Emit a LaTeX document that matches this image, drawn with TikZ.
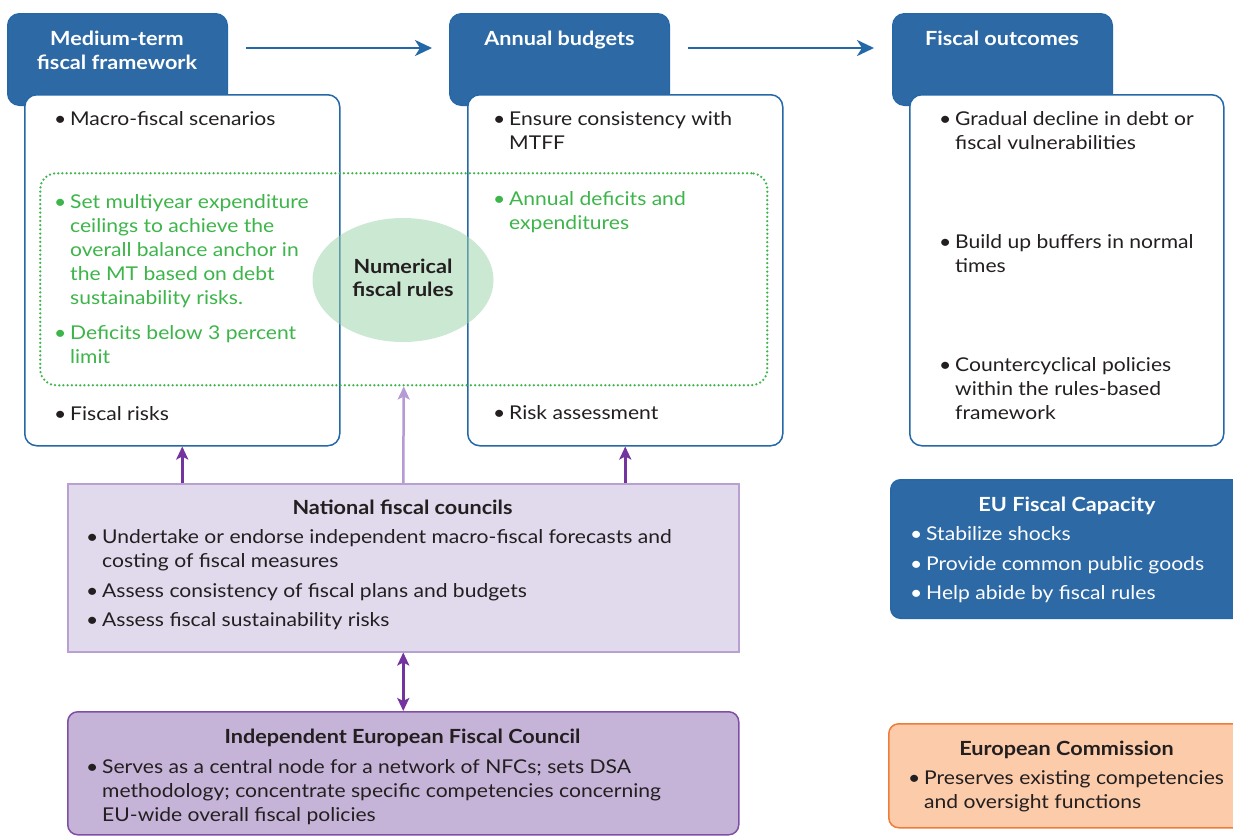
\documentclass[tikz,border=0pt]{standalone}
\usepackage{fontspec}
\setmainfont{Lato}[FakeStretch=1.11]
\usetikzlibrary{arrows.meta,shapes.geometric}

\definecolor{hdrblue}{HTML}{2C69A5}
\definecolor{edgeblue}{HTML}{2468A8}
\definecolor{rulegreen}{HTML}{3DB54A}
\definecolor{ellfill}{HTML}{99D3A7}
\definecolor{ink}{HTML}{231F20}
\definecolor{nfcfill}{HTML}{E1D9EC}
\definecolor{nfcedge}{HTML}{B9A0D2}
\definecolor{iefcfill}{HTML}{C6B4D8}
\definecolor{iefcedge}{HTML}{7F4FA6}
\definecolor{arrpurple}{HTML}{7334A0}
\definecolor{ltpurple}{HTML}{B49BD4}
\definecolor{ecfill}{HTML}{FCCBA9}
\definecolor{ecedge}{HTML}{F07A3A}

% bullet with hanging indent
\newcommand\bu{\makebox[16pt][l]{•}}
\newcommand\ind{\hspace*{16pt}}

\tikzset{
  hdrbox/.style={draw=edgeblue, fill=hdrblue, line width=1pt, rounded corners=12pt,
    minimum width=220pt, minimum height=92pt, anchor=north west, inner sep=0pt},
  bodybox/.style={draw=edgeblue, fill=white, line width=1.5pt, rounded corners=12pt,
    minimum width=315pt, minimum height=351pt, anchor=north west, inner sep=0pt},
  txt/.style={font=\fontsize{19}{24}\selectfont, text=ink, inner sep=0pt,
    anchor=north west, align=left},
  gtxt/.style={txt, text=rulegreen},
  wtxt/.style={txt, text=white},
  htitle/.style={font=\fontsize{19.5}{24}\selectfont\bfseries, text=white, inner sep=0pt, align=center},
  btitle/.style={font=\fontsize{19.5}{24}\selectfont\bfseries, text=ink, inner sep=0pt, anchor=base},
  flowarr/.style={draw=edgeblue, line width=2.5pt,
    -{Stealth[length=17pt,width=16pt,inset=5pt]}},
  parr/.style={draw=arrpurple, line width=2.5pt,
    -{Stealth[length=13pt,width=12pt,inset=3pt]}},
  lparr/.style={draw=ltpurple, line width=2.5pt,
    -{Stealth[length=13pt,width=12pt,inset=3pt]}},
  dparr/.style={draw=arrpurple, line width=2.5pt,
    {Stealth[length=13pt,width=12pt,inset=3pt]}-{Stealth[length=13pt,width=12pt,inset=3pt]}},
}

\begin{document}
\begin{tikzpicture}[x=1pt,y=-1pt]
\useasboundingbox[fill=white] (0,0) rectangle (1233,836);

% column headers
\node[hdrbox] (mtffh) at (7,13) {};
\node[hdrbox] (annh) at (449,13) {};
\node[hdrbox] (outh) at (892,13) {};

% column bodies
\node[bodybox] (mtffb) at (24,94) {};
\node[bodybox] (annb) at (467,94) {};
\node[bodybox, minimum width=314pt] (outb) at (909,94) {};

% header titles
\node[htitle, anchor=north] (mtfft) at (117,45-16.8) {\strut Medium-term\\fiscal framework};
\node[htitle, anchor=base] (annt) at (559.5,45) {Annual budgets};
\node[htitle, anchor=base] (outt) at (1002,45) {Fiscal outcomes};

% flow between the columns
\draw[flowarr, shorten >=17pt, shorten <=18pt] ([yshift=-35pt]mtffh.north east) -- ([yshift=-35pt]annh.north west);
\draw[flowarr, shorten >=18pt, shorten <=18pt] ([yshift=-35pt]annh.north east) -- ([yshift=-35pt]outh.north west);

% numerical fiscal rules band
\node[draw=rulegreen, line width=2.5pt, dash pattern=on 0pt off 4.2pt, line cap=round,
  rounded corners=16pt, minimum width=727pt, minimum height=212pt, anchor=north west,
  inner sep=0pt] (rules) at (39,172) {};
\node[ellipse, fill=ellfill, fill opacity=0.5, text opacity=1, minimum width=181pt,
  minimum height=124pt, inner sep=0pt, align=center,
  font=\fontsize{19.5}{23}\selectfont\bfseries, text=ink] (nfr) at (403,280)
  {\strut Numerical\\fiscal rules\strut};

% medium-term fiscal framework items
\node[txt] (m1) at (54,128-16.8) {\bu Macro-fiscal scenarios};
\node[gtxt] (m2) at (54,211-16.8) {\bu Set multiyear expenditure\\\ind ceilings to achieve the\\\ind overall balance anchor in\\\ind the MT based on debt\\\ind sustainability risks.};
\node[gtxt] (m3) at (54,342-16.8) {\bu Deficits below 3 percent\\\ind limit};
\node[txt] (m4) at (54,423-16.8) {\bu Fiscal risks};

% annual budget items
\node[txt] (a1) at (493,128-16.8) {\bu Ensure consistency with\\\ind MTFF};
\node[gtxt] (a2) at (493,208-16.8) {\bu Annual deficits and\\\ind expenditures};
\node[txt] (a3) at (493,422-16.8) {\bu Risk assessment};

% fiscal outcome items
\node[txt] (o1) at (939,128-16.8) {\bu Gradual decline in debt or\\\ind fiscal vulnerabilities};
\node[txt] (o2) at (939,251-16.8) {\bu Build up buffers in normal\\\ind times};
\node[txt] (o3) at (939,374-16.8) {\bu Countercyclical policies\\\ind within the rules-based\\\ind framework};

% national fiscal councils
\node[draw=nfcedge, fill=nfcfill, line width=1.5pt, minimum width=671pt, minimum height=168pt,
  anchor=north west, inner sep=0pt] (nfc) at (67,483) {};
\node[btitle] (nfct) at (402.5,514) {National fiscal councils};
\node[txt] (n1) at (86,546-16.8) {\bu Undertake or endorse independent macro-fiscal forecasts and\\\ind costing of fiscal measures};
\node[txt] (n2) at (86,600-16.8) {\bu Assess consistency of fiscal plans and budgets};
\node[txt] (n3) at (86,629-16.8) {\bu Assess fiscal sustainability risks};

% independent European fiscal council
\node[draw=iefcedge, fill=iefcfill, line width=1.5pt, rounded corners=10pt,
  minimum width=671pt, minimum height=123pt, anchor=north west, inner sep=0pt] (iefc) at (67,711) {};
\node[btitle] (iefct) at (402.5,743) {Independent European Fiscal Council};
\node[txt] (i1) at (86,776-16.8) {\bu Serves as a central node for a network of NFCs; sets DSA\\\ind methodology; concentrate specific competencies concerning\\\ind EU-wide overall fiscal policies};

% EU fiscal capacity
\node[draw=edgeblue, fill=hdrblue, line width=1pt, rounded corners=10pt,
  minimum width=354pt, minimum height=139pt, anchor=north west, inner sep=0pt] (eufc) at (890,479) {};
\node[btitle, text=white] (eufct) at (1067,511) {EU Fiscal Capacity};
\node[wtxt] (e1) at (910,543-16.8) {\bu Stabilize shocks};
\node[wtxt] (e2) at (910,573-16.8) {\bu Provide common public goods};
\node[wtxt] (e3) at (910,602-16.8) {\bu Help abide by fiscal rules};

% European Commission
\node[draw=ecedge, fill=ecfill, line width=1.5pt, rounded corners=10pt,
  minimum width=357pt, minimum height=104pt, anchor=north west, inner sep=0pt] (ec) at (888,723) {};
\node[btitle] (ect) at (1066.5,755) {European Commission};
\node[txt] (c1) at (908,787-16.8) {\bu Preserves existing competencies\\\ind and oversight functions};

% links from the councils
\draw[parr] (nfc.north -| mtffb.south) -- (mtffb.south);
\draw[parr] (nfc.north -| annb.south) -- (annb.south);
\draw[lparr] (nfc.north) -- (rules.south);
\draw[dparr] (nfc.south) -- (iefc.north);
\end{tikzpicture}
\end{document}
